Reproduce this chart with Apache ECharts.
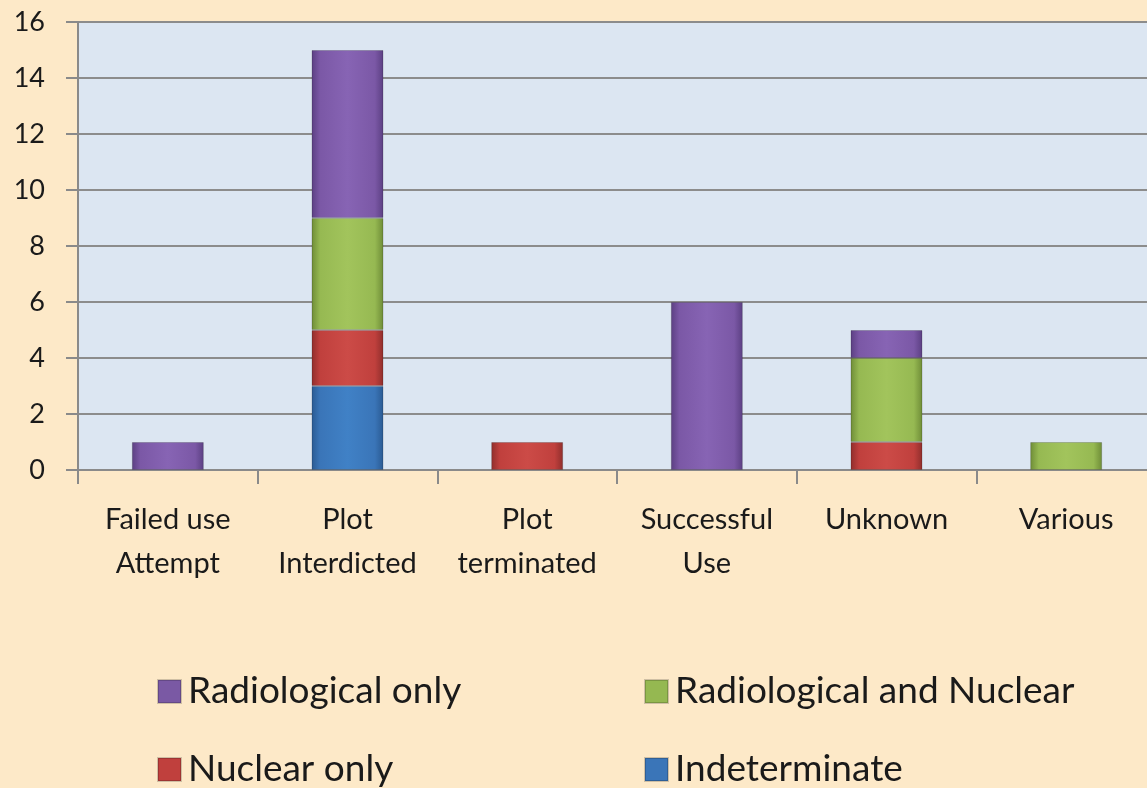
<!DOCTYPE html>
<html>
<head>
<meta charset="utf-8">
<script src="https://cdn.jsdelivr.net/npm/echarts@6/dist/echarts.min.js"></script>
<style>
  html, body { margin: 0; padding: 0; background: #fde9c8; overflow: hidden; }
  #main { width: 1156px; height: 788px; }
</style>
</head>
<body>
<div id="main"></div>
<script>
// categories along the x axis
const categories = ['Failed use\nAttempt', 'Plot\nInterdicted', 'Plot\nterminated', 'Successful\nUse', 'Unknown', 'Various'];

// series values, stacked bottom -> top
const indeterminate = [0, 3, 0, 0, 0, 0];
const nuclearOnly = [0, 2, 1, 0, 1, 0];
const radAndNuclear = [0, 4, 0, 0, 3, 1];
const radOnly = [1, 6, 0, 6, 1, 0];

const yTicks = { min: 0, max: 16, interval: 2 };

const FONT = 'Lato, "DejaVu Sans", sans-serif';

// left-right shading so the bars look a bit rounded like the original
function shade(light, mid, dark) {
    return new echarts.graphic.LinearGradient(0, 0, 1, 0, [
        { offset: 0, color: dark },
        { offset: 0.12, color: mid },
        { offset: 0.5, color: light },
        { offset: 0.88, color: mid },
        { offset: 1, color: dark }
    ]);
}

const colors = {
    rad: shade('#8764b4', '#7b58a6', '#5b3f82'),
    radNuc: shade('#a2c45c', '#96b952', '#6e8c37'),
    nuc: shade('#cc4b47', '#c0403d', '#8f2e2c'),
    ind: shade('#4081c6', '#3a75b8', '#2a5a92')
};
const legendColors = { rad: '#7a59a4', radNuc: '#95b851', nuc: '#c0403d', ind: '#3a75b8' };

function makeSeries(name, data, color) {
    return {
        name: name,
        type: 'bar',
        stack: 'total',
        barWidth: 72,
        data: data.map(v => v === 0 ? '-' : v),
        itemStyle: {
            color: color,
            borderColor: 'rgba(0,0,0,0.18)',
            borderWidth: 1
        }
    };
}

function legendItem(name, left, top, col) {
    return {
        data: [{ name: name, itemStyle: { color: col } }],
        left: left,
        top: top,
        icon: 'rect',
        itemWidth: 23,
        itemHeight: 23,
        itemGap: 10,
        selectedMode: false,
        textStyle: { fontFamily: FONT, fontSize: 37, color: '#1a1a1a', padding: [0, 0, 0, 2] }
    };
}

const chart = echarts.init(document.getElementById('main'));
chart.setOption({
    backgroundColor: '#fde9c8',
    animation: false,
    grid: {
        left: 78,
        right: 0,
        top: 22,
        bottom: 318,
        show: true,
        backgroundColor: '#dce6f2',
        borderWidth: 0
    },
    legend: [
        legendItem('Radiological only', 152, 668, legendColors.rad),
        legendItem('Radiological and Nuclear', 639, 668, legendColors.radNuc),
        legendItem('Nuclear only', 152, 746, legendColors.nuc),
        legendItem('Indeterminate', 639, 746, legendColors.ind)
    ],
    xAxis: {
        type: 'category',
        data: categories,
        axisLine: { lineStyle: { color: '#8a8a8a', width: 2 } },
        axisTick: { show: true, interval: 0, length: 14, lineStyle: { color: '#8a8a8a', width: 2 } },
        axisLabel: {
            interval: 0,
            fontFamily: FONT,
            fontSize: 29,
            lineHeight: 44,
            color: '#1a1a1a',
            margin: 28
        }
    },
    yAxis: {
        type: 'value',
        min: yTicks.min,
        max: yTicks.max,
        interval: yTicks.interval,
        axisLine: { show: true, lineStyle: { color: '#8a8a8a', width: 2 } },
        axisTick: { show: true, length: 12, lineStyle: { color: '#8a8a8a', width: 2 } },
        splitLine: { lineStyle: { color: '#8c8c8c', width: 2 } },
        axisLabel: {
            fontFamily: FONT,
            fontSize: 27,
            color: '#1a1a1a',
            margin: 33
        }
    },
    series: [
        makeSeries('Indeterminate', indeterminate, colors.ind),
        makeSeries('Nuclear only', nuclearOnly, colors.nuc),
        makeSeries('Radiological and Nuclear', radAndNuclear, colors.radNuc),
        makeSeries('Radiological only', radOnly, colors.rad)
    ]
});
window.addEventListener('resize', function () {
    chart.resize();
});
</script>
</body>
</html>
